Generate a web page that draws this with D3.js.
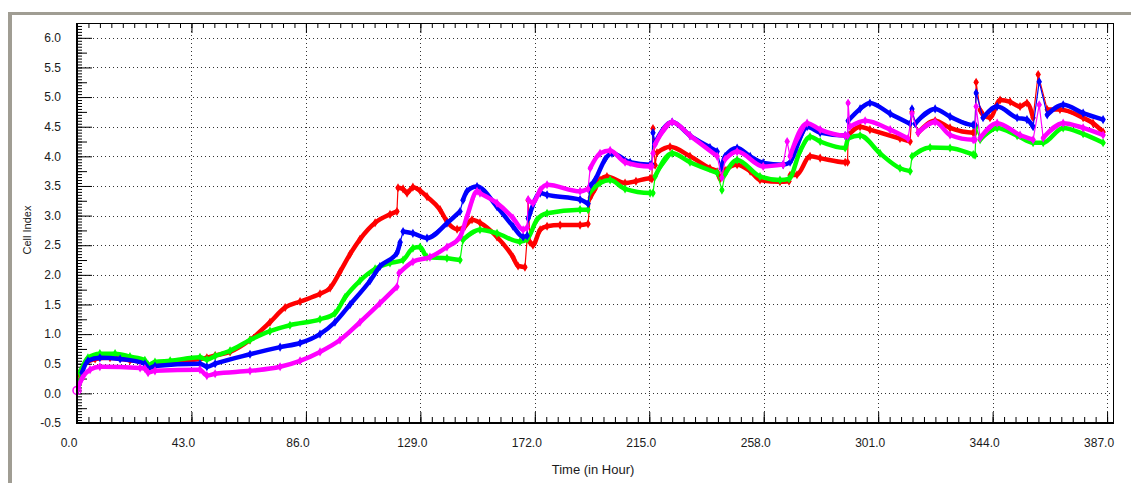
<!DOCTYPE html>
<html><head><meta charset="utf-8">
<script src="https://cdn.jsdelivr.net/npm/d3@7"></script>
<style>
html,body{margin:0;padding:0;background:#fff;}
svg{display:block;}
text{font-family:"Liberation Sans",Arial,sans-serif;fill:#1a1a1a;}
</style></head>
<body>
<svg id="chart" width="1131" height="483"></svg>
<script>
// ---- data (time in hours, cell index) ----
const xTickValues = [0,43,86,129,172,215,258,301,344,387];
const yTickValues = [-0.5,0,0.5,1,1.5,2,2.5,3,3.5,4,4.5,5,5.5,6];
const xTitle = "Time (in Hour)";
const yTitle = "Cell Index";

const redSeries = [[0,0.05],[1.1,0.3],[3.0,0.5],[6.8,0.58],[12.4,0.6],[19.9,0.56],[25.5,0.52],[26.7,0.46],[29.3,0.5],[46.2,0.58],[48.8,0.6],[51.9,0.64],[57.5,0.7],[65.0,0.9],[72.5,1.2],[78.2,1.45],[83.8,1.55],[91.3,1.68],[95.1,1.78],[98.8,2.05],[102.6,2.35],[106.3,2.6],[112.0,2.88],[117.6,3.02],[120.2,3.07],[120.6,3.47],[122.5,3.45],[124.0,3.38],[126.2,3.48],[128.9,3.42],[131.5,3.32],[136.4,3.1],[139.0,2.9],[142.8,2.77],[145.8,2.82],[148.4,2.93],[151.4,2.88],[157.8,2.64],[163.8,2.3],[165.7,2.15],[168.3,2.13],[169.1,2.6],[169.5,3.26],[170.2,2.55],[171.3,2.5],[174.0,2.76],[176.6,2.82],[181.5,2.84],[189.0,2.84],[192.0,2.86],[192.8,3.3],[194.6,3.45],[196.5,3.6],[199.1,3.66],[205.9,3.55],[210.0,3.58],[215.3,3.63],[216.0,3.62],[216.4,4.47],[217.2,3.85],[217.9,4.06],[222.8,4.16],[230.3,4.0],[237.8,3.8],[240.5,3.74],[241.6,3.62],[243.5,3.76],[248.0,3.86],[252.9,3.75],[256.6,3.6],[264.1,3.57],[267.5,3.58],[267.9,3.68],[270.5,3.69],[275.4,4.0],[279.2,3.97],[288.6,3.9],[289.5,3.9],[289.7,4.35],[294.2,4.5],[297.9,4.45],[309.2,4.3],[313.0,4.25],[313.7,4.75],[316.0,4.4],[322.4,4.6],[328.0,4.48],[336.7,4.4],[337.4,4.4],[337.8,5.25],[339.3,4.78],[340.4,4.7],[343.0,4.65],[346.8,4.95],[350.6,4.92],[354.3,4.84],[356.9,4.9],[359.2,4.65],[361.1,5.38],[364.5,4.79],[369.3,4.79],[378.0,4.65],[381.7,4.56],[385.5,4.41]];

const greenSeries = [[0,0.05],[1.1,0.35],[4.1,0.6],[8.6,0.67],[14.3,0.67],[19.9,0.62],[25.5,0.56],[26.7,0.48],[29.3,0.53],[35.0,0.55],[46.2,0.61],[48.8,0.57],[51.9,0.63],[57.5,0.72],[65.0,0.9],[72.5,1.05],[80.0,1.15],[91.3,1.25],[96.9,1.35],[100.7,1.62],[106.3,1.9],[112.0,2.1],[117.6,2.2],[122.5,2.25],[126.2,2.45],[128.9,2.47],[131.5,2.3],[139.0,2.28],[143.9,2.25],[145.0,2.59],[151.4,2.76],[157.8,2.7],[166.4,2.56],[169.1,2.6],[172.8,2.93],[176.6,3.04],[189.0,3.1],[192.0,3.1],[192.8,3.4],[196.5,3.55],[200.3,3.6],[205.9,3.45],[215.3,3.38],[216.4,3.38],[217.2,3.66],[223.6,4.05],[230.3,3.9],[240.5,3.72],[242.3,3.43],[243.5,3.7],[248.0,3.94],[256.6,3.66],[264.1,3.6],[267.5,3.62],[271.6,4.08],[275.4,4.33],[279.2,4.25],[288.6,4.14],[289.7,4.3],[294.2,4.35],[301.7,4.05],[309.2,3.8],[313.0,3.75],[313.7,4.0],[320.5,4.15],[328.0,4.14],[336.7,4.03],[337.4,4.02],[337.8,4.5],[339.3,4.28],[345.7,4.48],[353.2,4.35],[359.2,4.23],[363.0,4.23],[370.5,4.48],[378.0,4.38],[385.5,4.23]];

const blueSeries = [[0,0.05],[1.9,0.35],[4.1,0.55],[8.6,0.6],[16.2,0.58],[25.5,0.5],[26.7,0.42],[29.3,0.46],[46.2,0.5],[48.8,0.45],[51.9,0.5],[65.0,0.66],[76.3,0.78],[83.8,0.85],[91.3,1.0],[96.9,1.2],[102.6,1.5],[110.1,1.9],[113.8,2.14],[120.2,2.37],[121.4,2.55],[122.5,2.73],[126.2,2.7],[131.5,2.62],[139.0,2.87],[143.9,3.07],[145.0,3.26],[146.5,3.41],[150.3,3.49],[157.8,3.15],[163.8,2.82],[167.6,2.64],[169.1,2.66],[169.5,2.95],[170.2,3.04],[174.0,3.38],[176.6,3.35],[189.0,3.27],[192.0,3.2],[192.8,3.5],[194.6,3.6],[198.4,3.95],[201.0,4.05],[207.8,3.9],[215.3,3.86],[216.0,3.86],[216.4,4.4],[217.2,4.23],[223.6,4.58],[230.3,4.35],[237.8,4.15],[240.5,4.08],[242.0,3.8],[243.5,4.0],[248.0,4.14],[252.9,4.0],[257.8,3.89],[265.3,3.86],[267.9,3.9],[269.0,4.0],[274.3,4.5],[279.2,4.4],[288.6,4.35],[289.5,4.35],[289.7,4.6],[294.2,4.8],[297.9,4.9],[305.5,4.72],[313.0,4.55],[313.7,4.8],[314.9,4.55],[322.4,4.8],[328.0,4.67],[336.7,4.53],[337.4,4.53],[337.8,5.07],[340.4,4.65],[345.7,4.84],[353.2,4.65],[356.9,4.62],[359.2,4.5],[361.5,5.26],[364.5,4.7],[370.5,4.87],[378.0,4.73],[385.5,4.62]];

const magentaSeries = [[0,0.05],[1.9,0.25],[4.9,0.4],[8.6,0.45],[23.7,0.43],[25.5,0.42],[26.7,0.35],[29.3,0.38],[46.2,0.4],[48.8,0.3],[51.9,0.33],[65.0,0.38],[76.3,0.45],[83.8,0.55],[91.3,0.7],[98.8,0.9],[106.3,1.2],[113.8,1.52],[120.2,1.8],[121.0,2.03],[126.2,2.22],[132.6,2.3],[139.0,2.47],[143.9,2.64],[146.5,2.98],[150.3,3.41],[151.4,3.38],[157.8,3.21],[163.8,2.96],[167.6,2.76],[169.1,2.8],[169.5,3.27],[171.3,3.21],[174.0,3.43],[176.6,3.52],[189.0,3.41],[192.0,3.45],[192.8,3.8],[196.5,4.05],[200.3,4.1],[205.9,3.9],[215.3,3.83],[216.0,3.83],[216.4,4.05],[217.2,4.2],[223.6,4.58],[230.3,4.35],[240.5,4.0],[242.3,3.64],[243.5,3.95],[248.0,4.08],[257.8,3.83],[265.3,3.86],[266.8,4.25],[267.9,4.0],[274.3,4.56],[279.2,4.45],[288.6,4.35],[289.5,4.35],[289.7,4.9],[290.4,4.5],[296.1,4.6],[305.5,4.45],[312.2,4.3],[313.7,4.72],[316.0,4.4],[322.4,4.58],[328.0,4.36],[336.7,4.28],[337.4,4.28],[337.8,4.84],[339.3,4.31],[345.7,4.56],[354.3,4.36],[359.2,4.28],[361.5,4.87],[363.0,4.31],[370.5,4.56],[378.0,4.48],[385.5,4.36]];

const seriesList = [
  {name:"red", color:"#ff0000", data:redSeries},
  {name:"green", color:"#00ff00", data:greenSeries},
  {name:"blue", color:"#0000ff", data:blueSeries},
  {name:"magenta", color:"#ff00ff", data:magentaSeries}
];

// ---- layout ----
const L = 77, R = 1114, T = 23, B = 423;
const x = d3.scaleLinear().domain([0, 389.6]).range([L, R]);
const y = d3.scaleLinear().domain([-0.5, 6.25]).range([B, T]);
const svg = d3.select("#chart");

// outer window frame
svg.append("rect").attr("x",0).attr("y",0).attr("width",1131).attr("height",483).attr("fill","#fff");
svg.append("rect").attr("x",8).attr("y",12).attr("width",1123).attr("height",3).attr("fill","#a09d93");
svg.append("rect").attr("x",8).attr("y",12).attr("width",4).attr("height",471).attr("fill","#a09d93");

// grid
const grid = svg.append("g").attr("stroke","#333").attr("stroke-width",1).attr("stroke-dasharray","1,3");
grid.selectAll("line.h").data(yTickValues.filter(v=>v>-0.5)).join("line")
  .attr("x1",L).attr("x2",R).attr("y1",d=>Math.round(y(d))+0.5).attr("y2",d=>Math.round(y(d))+0.5);
grid.selectAll("line.v").data(xTickValues.filter(v=>v>0)).join("line")
  .attr("y1",T).attr("y2",B).attr("x1",d=>Math.round(x(d))+0.5).attr("x2",d=>Math.round(x(d))+0.5);

// axes (ticks pointing inward)
const xMinor = d3.range(0, 389.6, 4.3);
const yMinor = d3.range(-0.5, 6.26, 0.05);
const yHalf = d3.range(-0.25, 6.26, 0.5);
function clean(g){ g.select(".domain").remove(); g.selectAll("line").attr("stroke","#000"); }

svg.append("g").attr("transform",`translate(0,${B})`)
  .call(d3.axisBottom(x).tickValues(xMinor).tickSize(-6).tickFormat("")).call(clean);
svg.append("g").attr("transform",`translate(0,${B})`)
  .call(d3.axisBottom(x).tickValues(xTickValues).tickSize(-11).tickFormat("")).call(clean);
svg.append("g").attr("transform",`translate(0,${T})`)
  .call(d3.axisTop(x).tickValues(xMinor).tickSize(-5).tickFormat("")).call(clean);
svg.append("g").attr("transform",`translate(0,${T})`)
  .call(d3.axisTop(x).tickValues(xTickValues).tickSize(-10).tickFormat("")).call(clean);
svg.append("g").attr("transform",`translate(${L},0)`)
  .call(d3.axisLeft(y).tickValues(yMinor).tickSize(-5).tickFormat("")).call(clean);
svg.append("g").attr("transform",`translate(${L},0)`)
  .call(d3.axisLeft(y).tickValues(yHalf).tickSize(-10).tickFormat("")).call(clean);
svg.append("g").attr("transform",`translate(${L},0)`)
  .call(d3.axisLeft(y).tickValues(yTickValues).tickSize(-15).tickFormat("")).call(clean);

// tick labels
svg.append("g").selectAll("text").data(xTickValues).join("text")
  .attr("x",d=>x(d)-8).attr("y",447).attr("text-anchor","middle")
  .style("font-size","12px").text(d=>d.toFixed(1));
svg.append("g").selectAll("text").data(yTickValues).join("text")
  .attr("x",61).attr("y",d=>y(d)).attr("dy","0.35em").attr("text-anchor","end")
  .style("font-size","12px").text(d=>d.toFixed(1));

// titles
svg.append("text").attr("x",593).attr("y",474).attr("text-anchor","middle").style("font-size","13px").text(xTitle);
svg.append("text").attr("transform","translate(31,230) rotate(-90)").attr("text-anchor","middle").style("font-size","11px").text(yTitle);

// series
svg.append("clipPath").attr("id","pc").append("rect").attr("x",L).attr("y",T).attr("width",R-L).attr("height",B-T);
const plot = svg.append("g").attr("clip-path","url(#pc)");
const smooth = d3.line().curve(d3.curveMonotoneX);
seriesList.forEach(s=>{
  const g = plot.append("g");
  const pts = s.data.map(d=>[x(d[0]), y(d[1])]);
  // thin continuous line (carries the jumps and spikes)
  g.append("path").attr("d", d3.line()(pts)).attr("fill","none").attr("stroke",s.color).attr("stroke-width",1.2);
  // split into gentle runs -> thick band (dense marker look)
  const runs = []; let cur = [pts[0]];
  for (let i=1;i<pts.length;i++){
    const a = pts[i-1], b = pts[i];
    const gentle = Math.abs(b[1]-a[1]) < 2.5*Math.abs(b[0]-a[0]) + 3;
    if (gentle) cur.push(b); else { runs.push(cur); cur = [b]; }
  }
  runs.push(cur);
  g.selectAll("path.run").data(runs).join("path")
    .attr("d", r => r.length>1 ? smooth(r) : `M${r[0][0]},${r[0][1]}Z`)
    .attr("fill","none").attr("stroke",s.color).attr("stroke-width",4.5)
    .attr("stroke-linecap","round").attr("stroke-linejoin","round");
  g.selectAll("path.m").data(s.data).join("path")
    .attr("transform",d=>`translate(${x(d[0])},${y(d[1])})`)
    .attr("d", d3.symbol(d3.symbolDiamond, 24)).attr("fill",s.color);
});
// start marker
svg.append("circle").attr("cx",x(0)).attr("cy",y(0.05)).attr("r",4).attr("fill","none").attr("stroke","#ff00ff").attr("stroke-width",1.5);

// plot box
svg.append("line").attr("x1",L).attr("x2",R).attr("y1",T+0.5).attr("y2",T+0.5).attr("stroke","#000");
svg.append("line").attr("x1",R-0.5).attr("x2",R-0.5).attr("y1",T).attr("y2",B).attr("stroke","#000");
svg.append("line").attr("x1",L).attr("x2",R).attr("y1",B).attr("y2",B).attr("stroke","#000").attr("stroke-width",2);
svg.append("line").attr("x1",L).attr("x2",L).attr("y1",T).attr("y2",B+1).attr("stroke","#000").attr("stroke-width",2);
</script>
</body></html>
